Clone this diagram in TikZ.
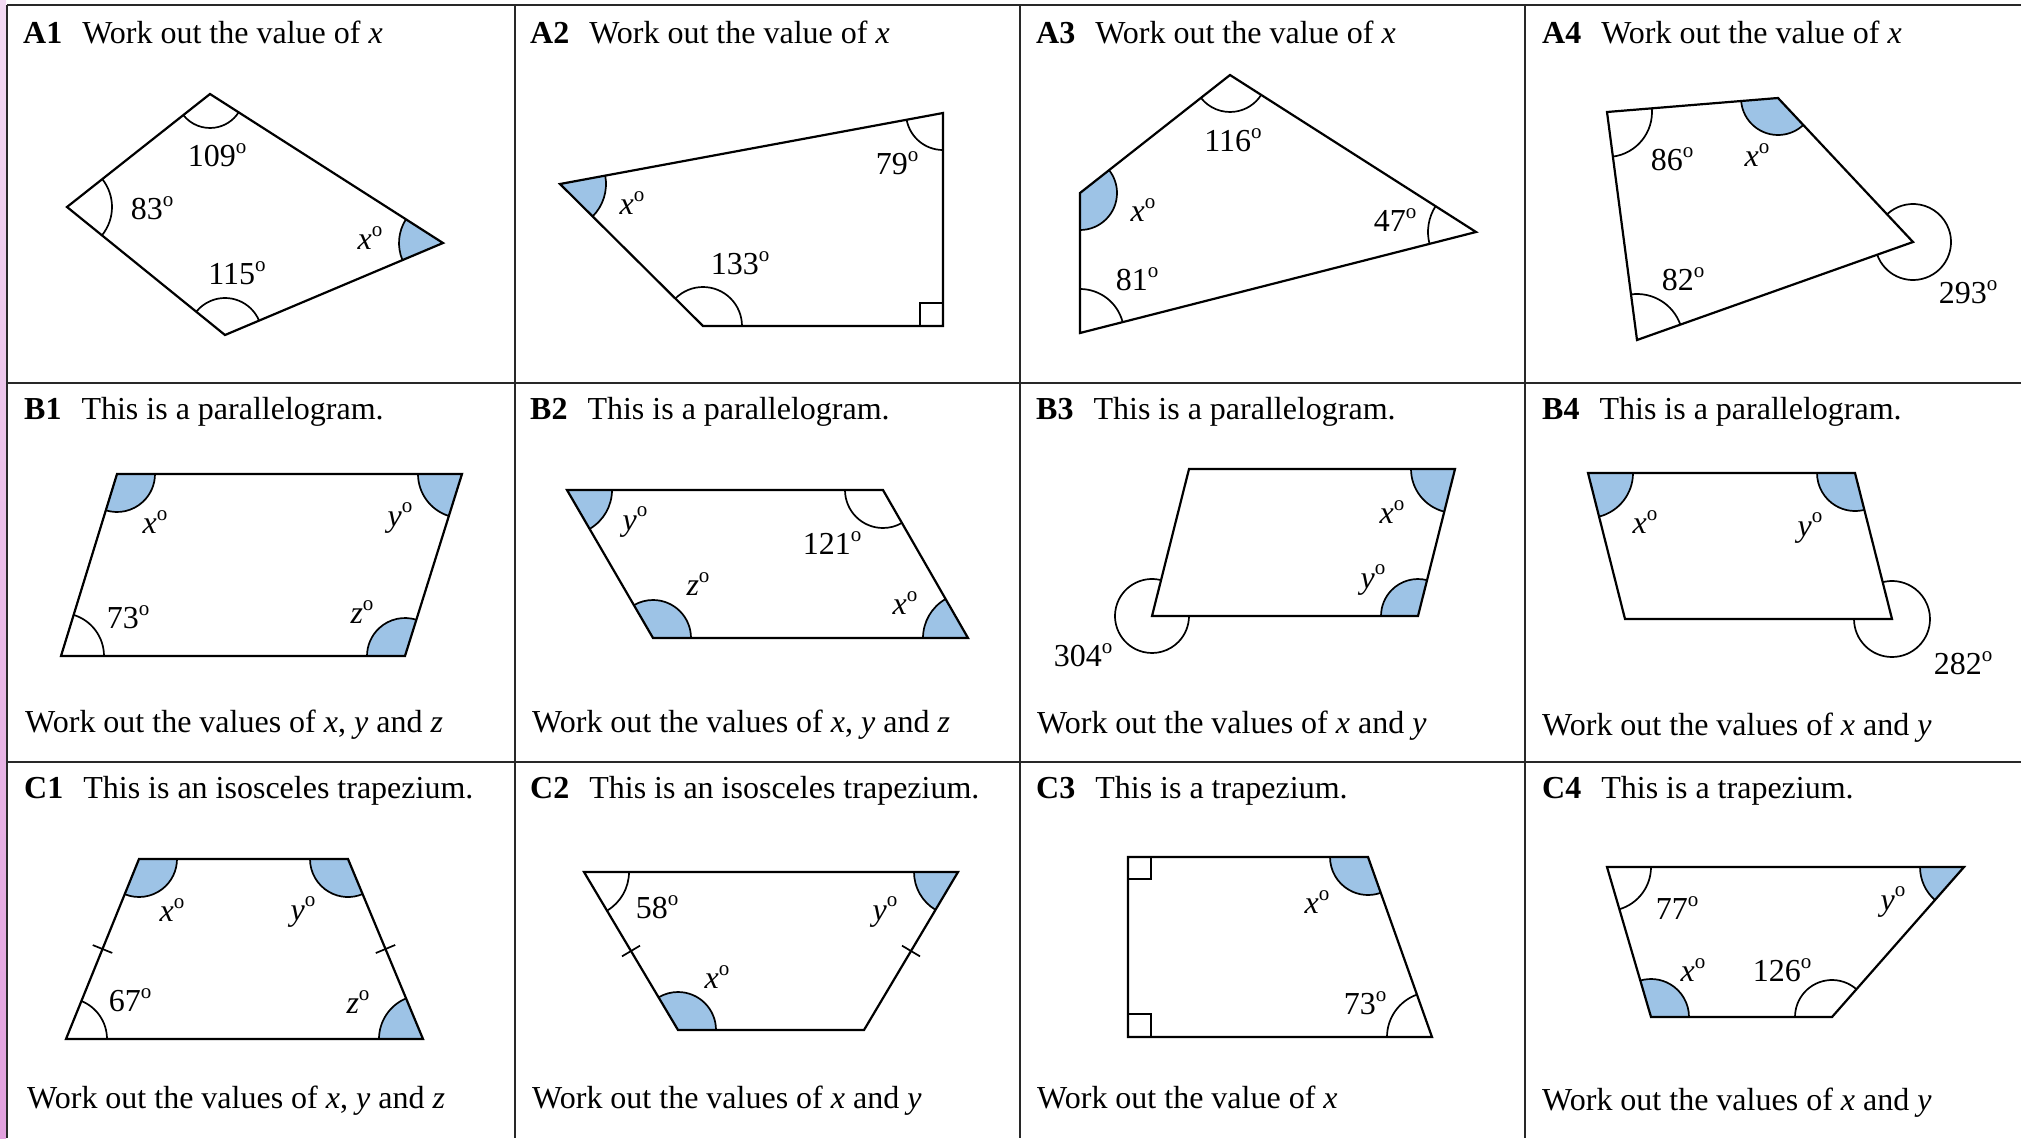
\documentclass[tikz,border=0pt]{standalone}
\usepackage{fontspec}
\setmainfont{Liberation Serif}
\usetikzlibrary{angles,calc}
\definecolor{angfill}{RGB}{157,195,230}
\definecolor{gridc}{RGB}{40,40,40}
\definecolor{pinktop}{RGB}{243,218,243}
\definecolor{pinkbot}{RGB}{226,160,222}
\newcommand{\dgo}{\raisebox{0.42em}{\fontsize{21}{21}\selectfont o}}
\tikzset{
  poly/.style={draw=black, line width=2.2pt, line join=miter},
  arcw/.style={draw=black, line width=1.7pt},
  arcf/.style={draw=black, line width=1.7pt, fill=angfill},
  lab/.style={inner sep=0pt, anchor=center},
  ttl/.style={inner sep=0pt, anchor=base west},
  gridl/.style={draw=gridc, line width=2pt},
}
\begin{document}
\begin{tikzpicture}[x=1pt,y=1pt,font=\fontsize{32}{38}\selectfont]
\useasboundingbox (0,-1138) rectangle (2021,0);
\shade[top color=pinktop, bottom color=pinkbot] (0,-1138) rectangle (6,0);
% grid
\draw[gridl] (7,-5) -- (2021,-5);
\draw[gridl] (7,-383) -- (2021,-383);
\draw[gridl] (7,-762) -- (2021,-762);
\draw[gridl] (7,-5) -- (7,-1138);
\draw[gridl] (515,-5) -- (515,-1138);
\draw[gridl] (1020,-5) -- (1020,-1138);
\draw[gridl] (1525,-5) -- (1525,-1138);

% ================= A1
\coordinate (a1t) at (210,-94);
\coordinate (a1r) at (443,-243);
\coordinate (a1b) at (225,-335);
\coordinate (a1l) at (67,-207);
\pic[arcw, angle radius=34pt] {angle=a1l--a1t--a1r};
\pic[arcf, angle radius=44pt] {angle=a1t--a1r--a1b};
\pic[arcw, angle radius=37pt] {angle=a1r--a1b--a1l};
\pic[arcw, angle radius=45pt] {angle=a1b--a1l--a1t};
\draw[poly] (a1t) -- (a1r) -- (a1b) -- (a1l) -- cycle;
\node[ttl] (ta1) at (23,-43) {\textbf{A1}\hspace{20pt}Work out the value of \textit{x}};
\node[lab] (la1a) at (217,-155) {109\dgo};
\node[lab] (la1b) at (152,-208) {83\dgo};
\node[lab] (la1c) at (237,-273) {115\dgo};
\node[lab] (la1d) at (370,-238) {\textit{x}\dgo};

% ================= A2
\coordinate (a2l) at (560,-184);
\coordinate (a2tr) at (943,-113);
\coordinate (a2br) at (943,-326);
\coordinate (a2bl) at (703,-326);
\pic[arcf, angle radius=46pt] {angle=a2bl--a2l--a2tr};
\pic[arcw, angle radius=37pt] {angle=a2l--a2tr--a2br};
\pic[arcw, angle radius=39pt] {angle=a2br--a2bl--a2l};
\draw[arcw] (a2br) ++(-23,0) -- ++(0,23) -- ++(23,0);
\draw[poly] (a2l) -- (a2tr) -- (a2br) -- (a2bl) -- cycle;
\node[ttl] (ta2) at (530,-43) {\textbf{A2}\hspace{20pt}Work out the value of \textit{x}};
\node[lab] (la2a) at (632,-203) {\textit{x}\dgo};
\node[lab] (la2b) at (897,-163) {79\dgo};
\node[lab] (la2c) at (740,-263) {133\dgo};

% ================= A3
\coordinate (a3t) at (1230,-75);
\coordinate (a3r) at (1476,-232);
\coordinate (a3bl) at (1080,-333);
\coordinate (a3lu) at (1080,-193);
\pic[arcw, angle radius=37pt] {angle=a3lu--a3t--a3r};
\pic[arcw, angle radius=48pt] {angle=a3t--a3r--a3bl};
\pic[arcw, angle radius=44pt] {angle=a3r--a3bl--a3lu};
\pic[arcf, angle radius=37pt] {angle=a3bl--a3lu--a3t};
\draw[poly] (a3t) -- (a3r) -- (a3bl) -- (a3lu) -- cycle;
\node[ttl] (ta3) at (1036,-43) {\textbf{A3}\hspace{20pt}Work out the value of \textit{x}};
\node[lab] (la3a) at (1233,-140) {116\dgo};
\node[lab] (la3b) at (1143,-210) {\textit{x}\dgo};
\node[lab] (la3c) at (1395,-220) {47\dgo};
\node[lab] (la3d) at (1137,-279) {81\dgo};

% ================= A4
\coordinate (a4tl) at (1607,-112);
\coordinate (a4tr) at (1778,-98);
\coordinate (a4r) at (1913,-242);
\coordinate (a4bl) at (1637,-340);
\pic[arcw, angle radius=45pt] {angle=a4bl--a4tl--a4tr};
\pic[arcf, angle radius=37pt] {angle=a4tl--a4tr--a4r};
\pic[arcw, angle radius=38pt] {angle=a4bl--a4r--a4tr};
\pic[arcw, angle radius=46pt] {angle=a4r--a4bl--a4tl};
\draw[poly] (a4tl) -- (a4tr) -- (a4r) -- (a4bl) -- cycle;
\node[ttl] (ta4) at (1542,-43) {\textbf{A4}\hspace{20pt}Work out the value of \textit{x}};
\node[lab] (la4a) at (1672,-159) {86\dgo};
\node[lab] (la4b) at (1757,-155) {\textit{x}\dgo};
\node[lab] (la4c) at (1683,-279) {82\dgo};
\node[lab] (la4d) at (1968,-292) {293\dgo};

% ================= B1
\coordinate (b1tl) at (117,-474);
\coordinate (b1tr) at (462,-474);
\coordinate (b1br) at (405,-656);
\coordinate (b1bl) at (61,-656);
\pic[arcf, angle radius=38pt] {angle=b1bl--b1tl--b1tr};
\pic[arcf, angle radius=44pt] {angle=b1tl--b1tr--b1br};
\pic[arcf, angle radius=38pt] {angle=b1tr--b1br--b1bl};
\pic[arcw, angle radius=43pt] {angle=b1br--b1bl--b1tl};
\draw[poly] (b1tl) -- (b1tr) -- (b1br) -- (b1bl) -- cycle;
\node[ttl] (tb1) at (24,-419) {\textbf{B1}\hspace{20pt}This is a parallelogram.};
\node[ttl] (qb1) at (25,-732) {Work out the values of \textit{x}, \textit{y} and \textit{z}};
\node[lab] (lb1a) at (155,-522) {\textit{x}\dgo};
\node[lab] (lb1b) at (400,-518) {\textit{y}\dgo};
\node[lab] (lb1c) at (128,-617) {73\dgo};
\node[lab] (lb1d) at (362,-612) {\textit{z}\dgo};

% ================= B2
\coordinate (b2tl) at (567,-490);
\coordinate (b2tr) at (883,-490);
\coordinate (b2br) at (968,-638);
\coordinate (b2bl) at (653,-638);
\pic[arcf, angle radius=45pt] {angle=b2bl--b2tl--b2tr};
\pic[arcw, angle radius=38pt] {angle=b2tl--b2tr--b2br};
\pic[arcf, angle radius=45pt] {angle=b2tr--b2br--b2bl};
\pic[arcf, angle radius=38pt] {angle=b2br--b2bl--b2tl};
\draw[poly] (b2tl) -- (b2tr) -- (b2br) -- (b2bl) -- cycle;
\node[ttl] (tb2) at (530,-419) {\textbf{B2}\hspace{20pt}This is a parallelogram.};
\node[ttl] (qb2) at (532,-732) {Work out the values of \textit{x}, \textit{y} and \textit{z}};
\node[lab] (lb2a) at (635,-522) {\textit{y}\dgo};
\node[lab] (lb2b) at (832,-543) {121\dgo};
\node[lab] (lb2c) at (698,-584) {\textit{z}\dgo};
\node[lab] (lb2d) at (905,-603) {\textit{x}\dgo};

% ================= B3
\coordinate (b3tl) at (1189,-469);
\coordinate (b3tr) at (1455,-469);
\coordinate (b3br) at (1418,-616);
\coordinate (b3bl) at (1152,-616);
\pic[arcf, angle radius=44pt] {angle=b3tl--b3tr--b3br};
\pic[arcf, angle radius=37pt] {angle=b3tr--b3br--b3bl};
\pic[arcw, angle radius=37pt] {angle=b3tl--b3bl--b3br};
\draw[poly] (b3tl) -- (b3tr) -- (b3br) -- (b3bl) -- cycle;
\node[ttl] (tb3) at (1036,-419) {\textbf{B3}\hspace{20pt}This is a parallelogram.};
\node[ttl] (qb3) at (1037,-733) {Work out the values of \textit{x} and \textit{y}};
\node[lab] (lb3a) at (1392,-512) {\textit{x}\dgo};
\node[lab] (lb3b) at (1373,-580) {\textit{y}\dgo};
\node[lab] (lb3c) at (1083,-655) {304\dgo};

% ================= B4
\coordinate (b4tl) at (1588,-473);
\coordinate (b4tr) at (1855,-473);
\coordinate (b4br) at (1892,-619);
\coordinate (b4bl) at (1625,-619);
\pic[arcf, angle radius=45pt] {angle=b4bl--b4tl--b4tr};
\pic[arcf, angle radius=38pt] {angle=b4tl--b4tr--b4br};
\pic[arcw, angle radius=38pt] {angle=b4bl--b4br--b4tr};
\draw[poly] (b4tl) -- (b4tr) -- (b4br) -- (b4bl) -- cycle;
\node[ttl] (tb4) at (1542,-419) {\textbf{B4}\hspace{20pt}This is a parallelogram.};
\node[ttl] (qb4) at (1542,-735) {Work out the values of \textit{x} and \textit{y}};
\node[lab] (lb4a) at (1645,-522) {\textit{x}\dgo};
\node[lab] (lb4b) at (1810,-528) {\textit{y}\dgo};
\node[lab] (lb4c) at (1963,-663) {282\dgo};

% ================= C1
\coordinate (c1tl) at (139,-859);
\coordinate (c1tr) at (348,-859);
\coordinate (c1br) at (423,-1039);
\coordinate (c1bl) at (66,-1039);
\pic[arcf, angle radius=38pt] {angle=c1bl--c1tl--c1tr};
\pic[arcf, angle radius=38pt] {angle=c1tl--c1tr--c1br};
\pic[arcf, angle radius=44pt] {angle=c1tr--c1br--c1bl};
\pic[arcw, angle radius=41pt] {angle=c1br--c1bl--c1tl};
\coordinate (c1m1) at ($(c1bl)!0.5!(c1tl)$);
\coordinate (c1m2) at ($(c1br)!0.5!(c1tr)$);
\draw[arcw] ($(c1m1)!10.5pt!90:(c1tl)$) -- ($(c1m1)!10.5pt!-90:(c1tl)$);
\draw[arcw] ($(c1m2)!10.5pt!90:(c1tr)$) -- ($(c1m2)!10.5pt!-90:(c1tr)$);
\draw[poly] (c1tl) -- (c1tr) -- (c1br) -- (c1bl) -- cycle;
\node[ttl] (tc1) at (24,-798) {\textbf{C1}\hspace{20pt}This is an isosceles trapezium.};
\node[ttl] (qc1) at (27,-1108) {Work out the values of \textit{x}, \textit{y} and \textit{z}};
\node[lab] (lc1a) at (172,-910) {\textit{x}\dgo};
\node[lab] (lc1b) at (303,-912) {\textit{y}\dgo};
\node[lab] (lc1c) at (130,-1000) {67\dgo};
\node[lab] (lc1d) at (358,-1002) {\textit{z}\dgo};

% ================= C2
\coordinate (c2tl) at (584,-872);
\coordinate (c2tr) at (958,-872);
\coordinate (c2br) at (864,-1030);
\coordinate (c2bl) at (678,-1030);
\pic[arcw, angle radius=45pt] {angle=c2bl--c2tl--c2tr};
\pic[arcf, angle radius=44pt] {angle=c2tl--c2tr--c2br};
\pic[arcf, angle radius=38pt] {angle=c2br--c2bl--c2tl};
\coordinate (c2m1) at ($(c2tl)!0.5!(c2bl)$);
\coordinate (c2m2) at ($(c2tr)!0.5!(c2br)$);
\draw[arcw] ($(c2m1)!10.5pt!90:(c2bl)$) -- ($(c2m1)!10.5pt!-90:(c2bl)$);
\draw[arcw] ($(c2m2)!10.5pt!90:(c2br)$) -- ($(c2m2)!10.5pt!-90:(c2br)$);
\draw[poly] (c2tl) -- (c2tr) -- (c2br) -- (c2bl) -- cycle;
\node[ttl] (tc2) at (530,-798) {\textbf{C2}\hspace{20pt}This is an isosceles trapezium.};
\node[ttl] (qc2) at (532,-1108) {Work out the values of \textit{x} and \textit{y}};
\node[lab] (lc2a) at (657,-907) {58\dgo};
\node[lab] (lc2b) at (885,-912) {\textit{y}\dgo};
\node[lab] (lc2c) at (717,-977) {\textit{x}\dgo};

% ================= C3
\coordinate (c3tl) at (1128,-857);
\coordinate (c3tr) at (1368,-857);
\coordinate (c3br) at (1432,-1037);
\coordinate (c3bl) at (1128,-1037);
\pic[arcf, angle radius=38pt] {angle=c3tl--c3tr--c3br};
\pic[arcw, angle radius=45pt] {angle=c3tr--c3br--c3bl};
\draw[arcw] (c3tl) ++(23,0) -- ++(0,-22) -- ++(-23,0);
\draw[arcw] (c3bl) ++(23,0) -- ++(0,23) -- ++(-23,0);
\draw[poly] (c3tl) -- (c3tr) -- (c3br) -- (c3bl) -- cycle;
\node[ttl] (tc3) at (1036,-798) {\textbf{C3}\hspace{20pt}This is a trapezium.};
\node[ttl] (qc3) at (1037,-1108) {Work out the value of \textit{x}};
\node[lab] (lc3a) at (1317,-902) {\textit{x}\dgo};
\node[lab] (lc3b) at (1365,-1003) {73\dgo};

% ================= C4
\coordinate (c4tl) at (1607,-867);
\coordinate (c4tr) at (1964,-867);
\coordinate (c4br) at (1832,-1017);
\coordinate (c4bl) at (1651,-1017);
\pic[arcw, angle radius=44pt] {angle=c4bl--c4tl--c4tr};
\pic[arcf, angle radius=44pt] {angle=c4tl--c4tr--c4br};
\pic[arcw, angle radius=37pt] {angle=c4tr--c4br--c4bl};
\pic[arcf, angle radius=38pt] {angle=c4br--c4bl--c4tl};
\draw[poly] (c4tl) -- (c4tr) -- (c4br) -- (c4bl) -- cycle;
\node[ttl] (tc4) at (1542,-798) {\textbf{C4}\hspace{20pt}This is a trapezium.};
\node[ttl] (qc4) at (1542,-1110) {Work out the values of \textit{x} and \textit{y}};
\node[lab] (lc4a) at (1677,-908) {77\dgo};
\node[lab] (lc4b) at (1893,-902) {\textit{y}\dgo};
\node[lab] (lc4c) at (1693,-970) {\textit{x}\dgo};
\node[lab] (lc4d) at (1782,-970) {126\dgo};
\end{tikzpicture}
\end{document}
